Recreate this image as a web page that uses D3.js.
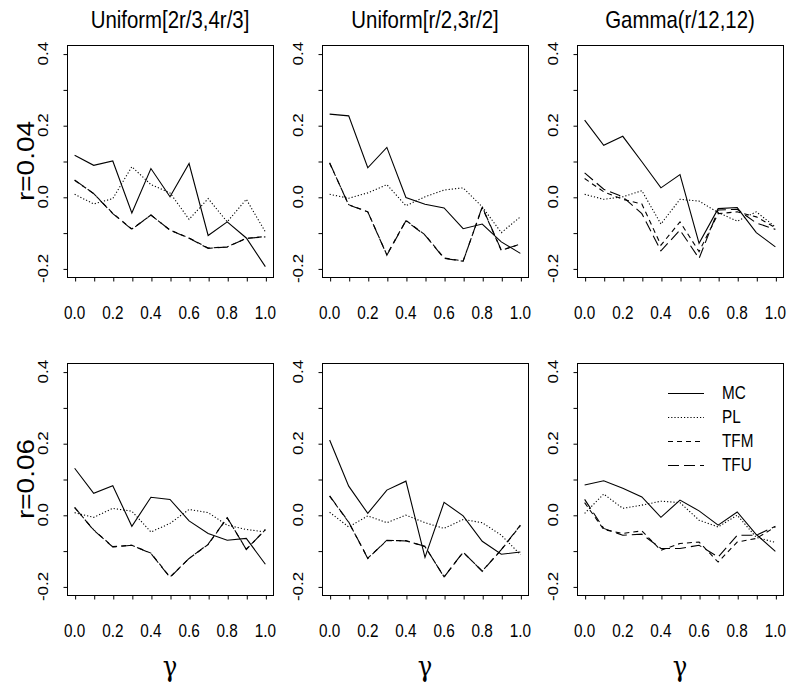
<!DOCTYPE html>
<html><head><meta charset="utf-8">
<script src="https://cdn.jsdelivr.net/npm/d3@7/dist/d3.min.js"></script>
<style>body{margin:0;background:#fff}svg{display:block}</style>
</head><body><svg id="c" width="789" height="688"></svg>
<script>
// ---------- data ----------
const gammaGrid = [0, 0.1, 0.2, 0.3, 0.4, 0.5, 0.6, 0.7, 0.8, 0.9, 1.0];
const columnTitles = ["Uniform[2r/3,4r/3]", "Uniform[r/2,3r/2]", "Gamma(r/12,12)"];
const rowLabels = ["r=0.04", "r=0.06"];
const seriesNames = ["MC", "PL", "TFM", "TFU"];
const xTickValues = [0, 0.1, 0.2, 0.3, 0.4, 0.5, 0.6, 0.7, 0.8, 0.9, 1.0];
const xTickLabelValues = [0, 0.2, 0.4, 0.6, 0.8, 1.0];
const yTickValues = [-0.2, -0.1, 0, 0.1, 0.2, 0.3, 0.4];
const yTickLabelValues = [-0.2, 0, 0.2, 0.4];
const xAxisLabel = "γ";

// r = 0.04, Uniform[2r/3,4r/3]
const r04_u1_MC  = [0.116, 0.088, 0.100, -0.045, 0.079, 0.000, 0.093, -0.108, -0.070, -0.115, -0.195];
const r04_u1_PL  = [0.007, -0.020, -0.005, 0.084, 0.034, 0.011, -0.063, -0.005, -0.070, -0.007, -0.098];
const r04_u1_TFM = [0.046, 0.009, -0.046, -0.090, -0.051, -0.093, -0.115, -0.143, -0.140, -0.116, -0.111];
const r04_u1_TFU = [0.047, 0.009, -0.047, -0.091, -0.051, -0.093, -0.116, -0.144, -0.140, -0.116, -0.112];
// r = 0.04, Uniform[r/2,3r/2]
const r04_u2_MC  = [0.231, 0.226, 0.081, 0.138, -0.002, -0.021, -0.031, -0.089, -0.076, -0.126, -0.158];
const r04_u2_PL  = [0.007, -0.004, 0.011, 0.034, -0.025, 0.000, 0.019, 0.025, -0.028, -0.100, -0.056];
const r04_u2_TFM = [0.094, -0.022, -0.042, -0.162, -0.066, -0.106, -0.171, -0.179, -0.030, -0.150, -0.132];
const r04_u2_TFU = [0.095, -0.023, -0.042, -0.163, -0.067, -0.107, -0.172, -0.180, -0.028, -0.149, -0.132];
// r = 0.04, Gamma(r/12,12)
const r04_g_MC   = [0.214, 0.144, 0.169, 0.098, 0.025, 0.062, -0.130, -0.033, -0.030, -0.100, -0.140];
const r04_g_PL   = [0.007, -0.007, 0.000, 0.017, -0.076, -0.007, -0.012, -0.044, -0.068, -0.042, -0.084];
const r04_g_TFM  = [0.051, 0.014, -0.007, -0.020, -0.135, -0.070, -0.153, -0.047, -0.042, -0.056, -0.086];
const r04_g_TFU  = [0.067, 0.021, 0.000, -0.047, -0.151, -0.093, -0.172, -0.037, -0.035, -0.073, -0.091];
// r = 0.06, Uniform[2r/3,4r/3]
const r06_u1_MC  = [0.130, 0.060, 0.081, -0.032, 0.049, 0.043, -0.017, -0.052, -0.071, -0.066, -0.138];
const r06_u1_PL  = [0.006, -0.007, 0.018, 0.010, -0.048, -0.024, 0.015, 0.006, -0.029, -0.041, -0.048];
const r06_u1_TFM = [0.020, -0.042, -0.089, -0.085, -0.107, -0.174, -0.122, -0.083, -0.009, -0.096, -0.042];
const r06_u1_TFU = [0.021, -0.043, -0.090, -0.085, -0.108, -0.175, -0.122, -0.082, -0.008, -0.097, -0.041];
// r = 0.06, Uniform[r/2,3r/2]
const r06_u2_MC  = [0.209, 0.080, 0.004, 0.069, 0.094, -0.119, 0.035, -0.003, -0.074, -0.110, -0.104];
const r06_u2_PL  = [0.007, -0.034, -0.003, -0.022, -0.001, -0.022, -0.038, -0.013, -0.022, -0.057, -0.111];
const r06_u2_TFM = [0.052, -0.021, -0.121, -0.072, -0.072, -0.089, -0.173, -0.105, -0.157, -0.098, -0.030];
const r06_u2_TFU = [0.053, -0.020, -0.122, -0.071, -0.073, -0.088, -0.174, -0.104, -0.158, -0.097, -0.029];
// r = 0.06, Gamma(r/12,12)
const r06_g_MC   = [0.083, 0.095, 0.074, 0.050, -0.007, 0.041, 0.011, -0.029, 0.008, -0.055, -0.102];
const r06_g_PL   = [0.004, 0.058, 0.018, 0.027, 0.038, 0.034, -0.015, -0.034, -0.001, -0.063, -0.077];
const r06_g_TFM  = [0.034, -0.041, -0.052, -0.045, -0.099, -0.080, -0.076, -0.132, -0.076, -0.066, -0.034];
const r06_g_TFU  = [0.043, -0.038, -0.057, -0.054, -0.094, -0.094, -0.085, -0.118, -0.057, -0.057, -0.032];

const panelSeries = [
  [[r04_u1_MC, r04_u1_PL, r04_u1_TFM, r04_u1_TFU],
   [r04_u2_MC, r04_u2_PL, r04_u2_TFM, r04_u2_TFU],
   [r04_g_MC,  r04_g_PL,  r04_g_TFM,  r04_g_TFU]],
  [[r06_u1_MC, r06_u1_PL, r06_u1_TFM, r06_u1_TFU],
   [r06_u2_MC, r06_u2_PL, r06_u2_TFM, r06_u2_TFU],
   [r06_g_MC,  r06_g_PL,  r06_g_TFM,  r06_g_TFU]]
];

// ---------- layout / style ----------
const colBox = [[67, 273], [322, 528], [577, 783]];
const rowBox = [[45, 277], [363, 595]];
const dashes = ["none", "1.2,2", "5,4", "11,5"];
const FONT = "'Liberation Sans', Arial, Helvetica, sans-serif";
const SX = 0.85; // horizontal compression of glyphs

const svg = d3.select("#c");

function hText(x, y, str, size, opts = {}) {
  return svg.append("text")
    .attr("transform", `translate(${x},${y}) scale(${opts.sx || SX},1)`)
    .attr("text-anchor", opts.anchor || "middle")
    .attr("dominant-baseline", "central")
    .attr("font-family", opts.family || FONT)
    .attr("font-size", size)
    .attr("fill", "#000")
    .text(str);
}
function vText(x, y, str, size) {
  return svg.append("text")
    .attr("transform", `translate(${x},${y}) scale(${SX},1) rotate(-90)`)
    .attr("text-anchor", "middle")
    .attr("dominant-baseline", "central")
    .attr("font-family", FONT)
    .attr("font-size", size)
    .attr("fill", "#000")
    .text(str);
}

const fmt = v => v.toFixed(1);

rowBox.forEach(([y0, y1], ri) => {
  colBox.forEach(([x0, x1], ci) => {
    const x = d3.scaleLinear().domain([-0.04, 1.04]).range([x0, x1]);
    const y = d3.scaleLinear().domain([-0.224, 0.424]).range([y1, y0]);

    // series lines
    const line = d3.line().x((d, i) => x(gammaGrid[i])).y(d => y(d));
    panelSeries[ri][ci].forEach((vals, si) => {
      svg.append("path")
        .datum(vals)
        .attr("d", line)
        .attr("fill", "none")
        .attr("stroke", "#000")
        .attr("stroke-width", 1.1)
        .attr("stroke-dasharray", dashes[si]);
    });

    // box
    svg.append("rect")
      .attr("x", x0 + 0.5).attr("y", y0 + 0.5)
      .attr("width", x1 - x0).attr("height", y1 - y0)
      .attr("fill", "none").attr("stroke", "#000").attr("stroke-width", 1);

    // ticks
    const gx = svg.append("g").attr("transform", `translate(0.5,${y1 + 0.5})`)
      .call(d3.axisBottom(x).tickValues(xTickValues).tickSize(4).tickSizeOuter(0).tickFormat(""));
    gx.select(".domain").remove();
    const gy = svg.append("g").attr("transform", `translate(${x0 + 0.5},0.5)`)
      .call(d3.axisLeft(y).tickValues(yTickValues).tickSize(4).tickSizeOuter(0).tickFormat(""));
    gy.select(".domain").remove();
    svg.selectAll(".tick line").attr("stroke", "#000");

    // tick labels
    xTickLabelValues.forEach(v => hText(x(v), y1 + 36, fmt(v), 18));
    yTickLabelValues.forEach(v => vText(x0 - 24, y(v), fmt(v), 17));

    // column titles
    if (ri === 0) hText((x0 + x1) / 2, 20, columnTitles[ci], 24);
    // gamma axis label
    if (ri === 1) hText((x0 + x1) / 2, 667, xAxisLabel, 27, {family: "'DejaVu Serif', 'Liberation Serif', serif", sx: 0.9});
    // row labels
    if (ci === 0) vText(26, (y0 + y1) / 2, rowLabels[ri], 28);

    // legend
    if (ri === 1 && ci === 2) {
      seriesNames.forEach((name, si) => {
        const ly = 393 + si * 24;
        svg.append("line")
          .attr("x1", 668).attr("x2", 704).attr("y1", ly + 0.5).attr("y2", ly + 0.5)
          .attr("stroke", "#000").attr("stroke-width", 1.1)
          .attr("stroke-dasharray", dashes[si]);
        hText(722, ly, name, 18, {anchor: "start"});
      });
    }
  });
});
</script></body></html>
